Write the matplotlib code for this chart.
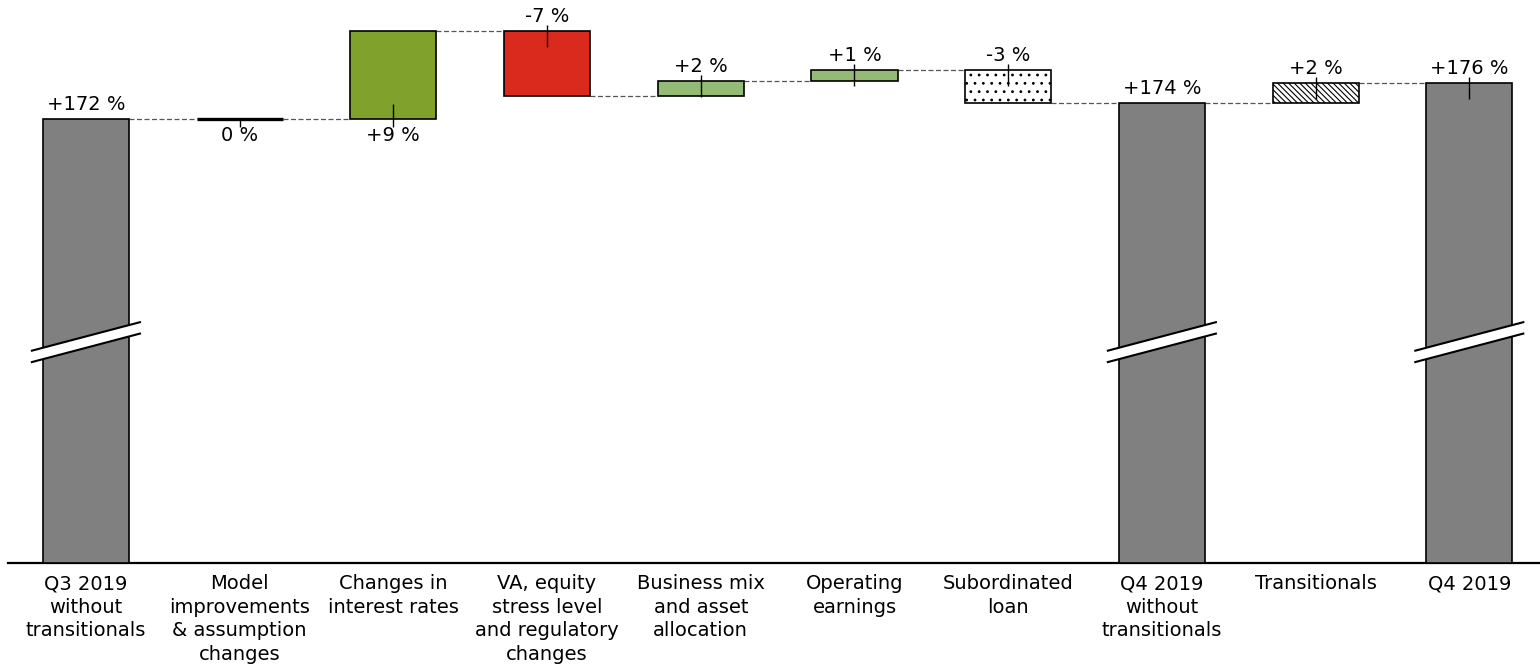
import matplotlib
matplotlib.use("Agg")
import matplotlib.pyplot as plt
from matplotlib.patches import Polygon

categories = ["Q3 2019\nwithout\ntransitionals",
              "Model\nimprovements\n& assumption\nchanges",
              "Changes in\ninterest rates",
              "VA, equity\nstress level\nand regulatory\nchanges",
              "Business mix\nand asset\nallocation",
              "Operating\nearnings",
              "Subordinated\nloan",
              "Q4 2019\nwithout\ntransitionals",
              "Transitionals",
              "Q4 2019"]
# kind: 'total' or 'delta'
kinds = ["total", "delta", "delta", "delta", "delta", "delta", "delta", "total", "delta", "total"]
start_value = 172.4
deltas = [None, 0.0, 9.1, -6.7, 1.5, 1.2, -3.4, None, 2.0, None]
value_labels = ["+172 %", "0 %", "+9 %", "-7 %", "+2 %", "+1 %", "-3 %", "+174 %", "+2 %", "+176 %"]

# styles
facecolors = ["#808080", "black", "#80a22c", "#da2a1e", "#93bb76", "#93bb76", "white", "#808080", "white", "#808080"]
hatches = [None, None, None, None, None, None, "..", None, "\\\\\\\\\\\\", None]
label_pos = ["above", "below", "below", "above", "above", "above", "above", "above", "above", "above"]
show_tick = [False, True, True, True, True, True, True, False, True, True]

plt.rcParams["font.family"] = ["DejaVu Sans"]
plt.rcParams["hatch.linewidth"] = 0.8

W, H = 1540, 668
fig = plt.figure(figsize=(W / 100, H / 100), dpi=100)
ax_h_px = 563
ax = fig.add_axes([8 / W, (H - ax_h_px) / H, (W - 8) / W, ax_h_px / H])

ymin, ymax = 126.63, 184.67
ax.set_ylim(ymin, ymax)
ax.set_xlim(-0.507, 9.46)
u = (ymax - ymin) / ax_h_px  # data units per pixel
bar_w = 0.56

# compute bar extents
bottoms, tops = [], []
level = start_value
for i, k in enumerate(kinds):
    if k == "total":
        bottoms.append(ymin)
        tops.append(level)
    else:
        new = level + deltas[i]
        bottoms.append(min(level, new))
        tops.append(max(level, new))
        level = new
levels_after = []
level = start_value
for i, k in enumerate(kinds):
    if k == "delta":
        level = level + deltas[i]
    levels_after.append(level)

for i in range(len(categories)):
    if kinds[i] == "delta" and deltas[i] == 0:
        ax.hlines(tops[i], i - bar_w / 2, i + bar_w / 2, color="black", lw=2.4, zorder=3)
    else:
        ax.bar(i, tops[i] - bottoms[i], bottom=bottoms[i], width=bar_w,
               color=facecolors[i], edgecolor="black", linewidth=1.2,
               hatch=hatches[i], zorder=3)

# connectors
for i in range(len(categories) - 1):
    lvl = levels_after[i]
    ax.hlines(lvl, i + bar_w / 2, i + 1 - bar_w / 2, color="#555555",
              lw=0.9, linestyles=(0, (4, 2)), zorder=2)

# value labels and ticks
for i in range(len(categories)):
    if label_pos[i] == "above":
        ax.text(i, tops[i] + 5 * u, value_labels[i], ha="center", va="bottom",
                fontsize=14, zorder=5)
        if show_tick[i]:
            ax.vlines(i, tops[i] - 16 * u, tops[i] + 6 * u, color="black", lw=1, zorder=5)
    else:
        ax.text(i, bottoms[i] - 7 * u, value_labels[i], ha="center", va="top",
                fontsize=14, zorder=5)
        if show_tick[i]:
            top_in = 15 * u if tops[i] > bottoms[i] else 0
            ax.vlines(i, bottoms[i] - 8 * u, bottoms[i] + top_in, color="black", lw=1, zorder=5)

# axis break marks on total bars
break_level = 149.4
half_w = 0.358
half_rise = 14.5 * u
gap = 5.7 * u
for i in range(len(categories)):
    if kinds[i] == "total":
        x0, x1 = i - half_w, i + half_w
        poly = Polygon([(x0, break_level - half_rise + gap), (x1, break_level + half_rise + gap),
                        (x1, break_level + half_rise - gap), (x0, break_level - half_rise - gap)],
                       closed=True, facecolor="white", edgecolor="none", zorder=6)
        ax.add_patch(poly)
        for s in (gap, -gap):
            ax.plot([x0, x1], [break_level - half_rise + s, break_level + half_rise + s],
                    color="black", lw=1.5, zorder=7, solid_capstyle="butt")

for sp in ("top", "right", "left"):
    ax.spines[sp].set_visible(False)
ax.spines["bottom"].set_linewidth(1.6)
ax.set_yticks([])
ax.set_xticks(range(len(categories)))
ax.set_xticklabels(categories, fontsize=14, linespacing=1.3)
ax.tick_params(axis="x", length=0, pad=8)

fig.savefig("out.png", dpi=100)
